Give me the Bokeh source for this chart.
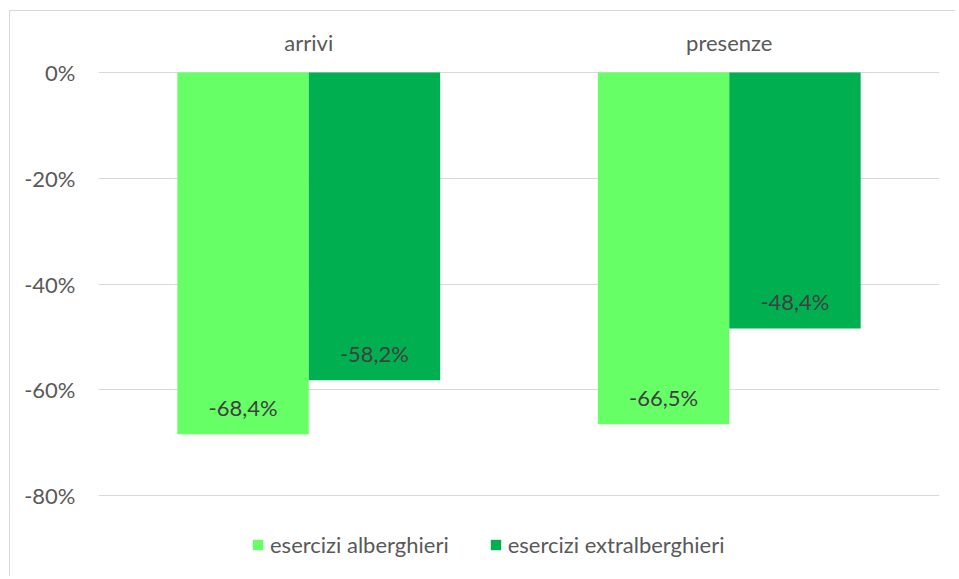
from bokeh.plotting import figure
from bokeh.models import (ColumnDataSource, FactorRange, Range1d, FixedTicker,
                          NumeralTickFormatter, Legend, LegendItem)
from bokeh.transform import dodge
from bokeh.core.properties import value
from bokeh.embed import file_html
from bokeh.resources import INLINE

categories = ["arrivi", "presenze"]
alberghieri = [-0.684, -0.665]
extralberghieri = [-0.582, -0.484]
lab_alb = ["-68,4%", "-66,5%"]
lab_extra = ["-58,2%", "-48,4%"]
y_ticks = [-0.8, -0.6, -0.4, -0.2, 0.0]
series_names = ["esercizi alberghieri", "esercizi extralberghieri"]

src = ColumnDataSource(dict(cat=categories, alb=alberghieri, extra=extralberghieri,
                            lab_alb=lab_alb, lab_extra=lab_extra,
                            zero=[0.0, 0.0]))

FONT = "Lato"
FS = "22px"
LIGHT = "#66FF66"
DARK = "#00B050"

p = figure(width=946, height=566, output_backend="svg", toolbar_location=None,
           x_range=FactorRange(*categories, range_padding=0),
           y_range=Range1d(-0.955, 0.00946),
           x_axis_location="above",
           min_border_left=88, min_border_right=17, min_border_top=56,
           min_border_bottom=0)
p.styles = {"border-left": "1px solid #d9d9d9", "border-top": "1px solid #d9d9d9",
            "margin": "10px 0 0 9px"}
p.outline_line_color = None
p.background_fill_color = "white"
p.border_fill_color = "white"

bw = 0.3125
r1 = p.vbar(x=dodge("cat", -bw / 2, range=p.x_range), top="zero", bottom="alb",
            width=bw, source=src, fill_color=LIGHT, line_color=None)
r2 = p.vbar(x=dodge("cat", bw / 2, range=p.x_range), top="zero", bottom="extra",
            width=bw, source=src, fill_color=DARK, line_color=None)

p.text(x=dodge("cat", -bw / 2, range=p.x_range), y="alb", text="lab_alb", source=src,
       y_offset=-27, text_align="center", text_baseline="middle",
       text_font=value(FONT), text_font_size=FS, text_color="#404040")
p.text(x=dodge("cat", bw / 2, range=p.x_range), y="extra", text="lab_extra", source=src,
       y_offset=-27, text_align="center", text_baseline="middle",
       text_font=value(FONT), text_font_size=FS, text_color="#404040")

p.xgrid.grid_line_color = None
p.ygrid.grid_line_color = "#d9d9d9"
p.ygrid.ticker = FixedTicker(ticks=y_ticks)

xa = p.xaxis[0]
xa.axis_line_color = None
xa.major_tick_line_color = None
xa.minor_tick_line_color = None
xa.major_label_text_font = FONT
xa.major_label_text_font_size = FS
xa.major_label_text_color = "#595959"
xa.major_label_standoff = 6

ya = p.yaxis[0]
ya.ticker = FixedTicker(ticks=y_ticks)
ya.formatter = NumeralTickFormatter(format="0%")
ya.axis_line_color = None
ya.major_tick_line_color = None
ya.minor_tick_line_color = None
ya.major_label_text_font = FONT
ya.major_label_text_font_size = FS
ya.major_label_text_color = "#595959"
ya.major_label_standoff = 17

legend = Legend(items=[LegendItem(label=series_names[0], renderers=[r1]),
                       LegendItem(label=series_names[1], renderers=[r2])],
                orientation="horizontal", location=(153, 19),
                glyph_width=13, glyph_height=13, label_standoff=6, spacing=40,
                padding=0, margin=0, border_line_color=None,
                background_fill_alpha=0,
                label_text_font=FONT, label_text_font_size=FS,
                label_text_color="#595959")
p.add_layout(legend, "center")

open("out.html", "w").write(file_html(p, INLINE))
